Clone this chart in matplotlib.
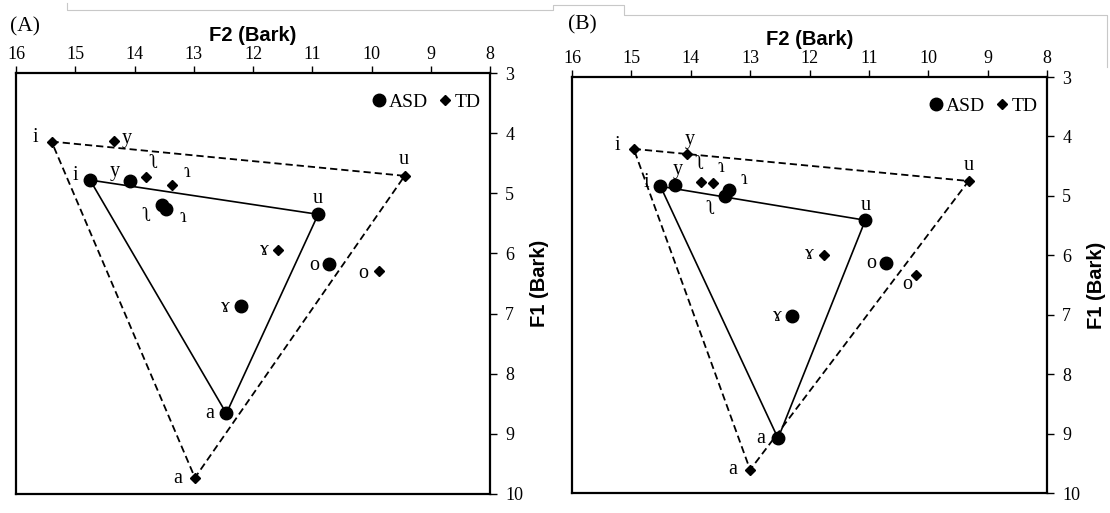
import numpy as np
import matplotlib.pyplot as plt
from matplotlib.lines import Line2D

plt.rcParams['font.family'] = ['Liberation Serif', 'DejaVu Serif']

# ----------------------------
# Datos (F2, F1 en Bark)
# ----------------------------
VOWELS = ["i", "y", "ʅ", "ɿ", "u", "ɤ", "o", "a"]
CORNERS = ["i", "u", "a", "i"]

# Panel (A)
A_ASD_F2 = [14.75, 14.08, 13.53, 13.47, 10.90, 12.21, 10.72, 12.45]
A_ASD_F1 = [4.78, 4.79, 5.19, 5.26, 5.35, 6.87, 6.18, 8.66]
A_TD_F2 = [15.40, 14.35, 13.81, 13.36, 9.44, 11.58, 9.88, 12.98]
A_TD_F1 = [4.14, 4.13, 4.73, 4.87, 4.71, 5.95, 6.30, 9.73]

# Panel (B)
B_ASD_F2 = [14.51, 14.27, 13.42, 13.35, 11.06, 12.29, 10.71, 12.53]
B_ASD_F1 = [4.84, 4.82, 5.00, 4.90, 5.41, 7.03, 6.13, 9.08]
B_TD_F2 = [14.96, 14.07, 13.82, 13.62, 9.32, 11.76, 10.21, 13.00]
B_TD_F1 = [4.21, 4.29, 4.77, 4.78, 4.75, 5.99, 6.34, 9.61]

F2_TICKS = list(range(8, 17))
F1_TICKS = list(range(3, 11))

# ----------------------------
# Posición de etiquetas (offset en píxeles)
# ----------------------------
A_ASD_OFF = {"i": (-15, 5), "y": (-15, 9), "ʅ": (-16, -12), "ɿ": (17, -9),
             "u": (0, 16), "ɤ": (-15, -2), "o": (-15, -1), "a": (-17, 0)}
A_TD_OFF = {"i": (-16, 4), "y": (13, 2), "ʅ": (8, 14), "ɿ": (14, 13),
            "u": (-1, 16), "ɤ": (-13, 0), "o": (-15, -2), "a": (-17, -1)}
B_ASD_OFF = {"i": (-14, 4), "y": (3, 16), "ʅ": (-14, -14), "ɿ": (14, 10),
             "u": (0, 15), "ɤ": (-15, 0), "o": (-15, 0), "a": (-17, 0)}
B_TD_OFF = {"i": (-16, 3), "y": (3, 14), "ʅ": (-2, 18), "ɿ": (7, 15),
            "u": (0, 16), "ɤ": (-14, 0), "o": (-9, -9), "a": (-17, 0)}

W, H = 1110, 513


def corner_line(f2, f1):
    idx = [VOWELS.index(v) for v in CORNERS]
    return [f2[k] for k in idx], [f1[k] for k in idx]


def draw_panel(ax, asd_f2, asd_f1, td_f2, td_f1, asd_off, td_off):
    # triángulos
    x, y = corner_line(td_f2, td_f1)
    ax.plot(x, y, color="black", lw=1.3, ls=(0, (4, 2.2)), zorder=2)
    x, y = corner_line(asd_f2, asd_f1)
    ax.plot(x, y, color="black", lw=1.2, zorder=2)

    ax.plot(asd_f2, asd_f1, ls="none", marker="o", ms=9, color="black",
            label="ASD", zorder=3)
    ax.plot(td_f2, td_f1, ls="none", marker="D", ms=5.3, color="black",
            label="TD", zorder=3)

    for v, xx, yy in zip(VOWELS, asd_f2, asd_f1):
        ax.annotate(v, (xx, yy), xytext=asd_off[v], textcoords="offset pixels",
                    ha="center", va="center", fontsize=14.5)
    for v, xx, yy in zip(VOWELS, td_f2, td_f1):
        ax.annotate(v, (xx, yy), xytext=td_off[v], textcoords="offset pixels",
                    ha="center", va="center", fontsize=14.5)

    ax.set_xlim(16, 8)
    ax.set_ylim(10, 3)
    ax.set_xticks(F2_TICKS)
    ax.set_yticks(F1_TICKS)
    ax.xaxis.tick_top()
    ax.yaxis.tick_right()
    ax.xaxis.set_label_position("top")
    ax.yaxis.set_label_position("right")
    ax.tick_params(direction="out", length=5, width=1, labelsize=13,
                   color="black")
    ax.tick_params(axis="x", pad=2.5)
    ax.tick_params(axis="y", pad=6)
    for s in ax.spines.values():
        s.set_linewidth(1.6)
    ax.set_xlabel("F2 (Bark)", fontfamily="Liberation Sans",
                  fontweight="bold", fontsize=14.5, labelpad=3)
    ax.set_ylabel("F1 (Bark)", fontfamily="Liberation Sans",
                  fontweight="bold", fontsize=14.5, labelpad=5)

    ax.legend(loc="upper right", bbox_to_anchor=(1.0, 0.975), frameon=False,
              ncol=2, fontsize=14, handlelength=0.7, handletextpad=0.15,
              columnspacing=0.5, borderaxespad=0.3, borderpad=0.2)


fig = plt.figure(figsize=(W / 100, H / 100), dpi=100)

axA = fig.add_axes([16 / W, 1 - 494 / H, 474 / W, 421 / H])
axB = fig.add_axes([572 / W, 1 - 493 / H, 475 / W, 416 / H])

draw_panel(axA, A_ASD_F2, A_ASD_F1, A_TD_F2, A_TD_F1, A_ASD_OFF, A_TD_OFF)
draw_panel(axB, B_ASD_F2, B_ASD_F1, B_TD_F2, B_TD_F1, B_ASD_OFF, B_TD_OFF)

fig.text(10 / W, 1 - 27 / H, "(A)", fontsize=15.5, va="center", ha="left")
fig.text(568 / W, 1 - 25 / H, "(B)", fontsize=15.5, va="center", ha="left")

# líneas grises del marco del documento
gx = [67, 67, 553, 553, 624, 624, 1107, 1107]
gy = [3, 10, 10, 5, 5, 15, 15, 67]
fig.add_artist(Line2D([v / W for v in gx], [1 - v / H for v in gy],
                      transform=fig.transFigure, color="#c8c8c8", lw=0.8))

fig.savefig("out.png", dpi=100)
